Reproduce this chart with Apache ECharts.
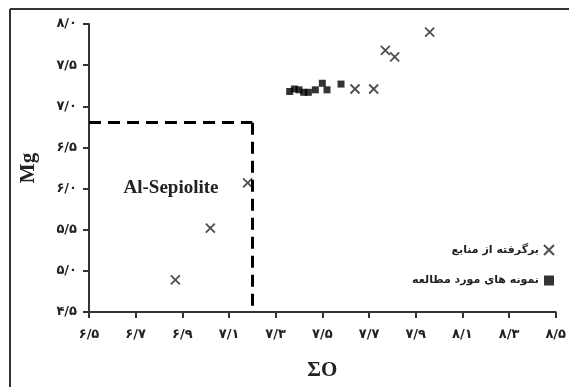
<!DOCTYPE html>
<html>
<head>
<meta charset="utf-8">
<script src="https://cdn.jsdelivr.net/npm/echarts@6/dist/echarts.min.js"></script>
<style>
  html, body { margin: 0; padding: 0; background: #fff; overflow: hidden; }
  #chart { width: 569px; height: 387px; }
</style>
</head>
<body>
<div id="chart"></div>
<script>
// Reference points (X markers)
const refX = [6.87, 7.02, 7.18, 7.64, 7.72, 7.77, 7.81, 7.96];
const refY = [4.89, 5.52, 6.07, 7.21, 7.21, 7.68, 7.60, 7.90];
// Studied samples (black squares)
const studyX = [7.36, 7.38, 7.40, 7.42, 7.44, 7.47, 7.50, 7.52, 7.58];
const studyY = [7.18, 7.21, 7.20, 7.17, 7.17, 7.20, 7.28, 7.20, 7.27];
// Al-Sepiolite field boundary
const fieldX = 7.2;
const fieldY = 6.8;
// Tick labels
const xTicks = [6.5, 6.7, 6.9, 7.1, 7.3, 7.5, 7.7, 7.9, 8.1, 8.3, 8.5];
const seriesNames = ['برگرفته از منابع', 'نمونه های مورد مطالعه'];

const faDigits = '۰۱۲۳۴۵۶۷۸۹';
function toPersian(v) {
  return v.toFixed(1).replace('.', '/').replace(/\d/g, d => faDigits[+d]);
}

const pair = (xs, ys) => xs.map((x, i) => [x, ys[i]]);
const crossPath = 'path://M0,0L10,10M10,0L0,10';
const labelFont = { color: '#222', fontFamily: 'DejaVu Sans', fontWeight: 'bold', fontSize: 13 };
const nameFont = { fontFamily: 'Liberation Serif', fontWeight: 'bold', fontSize: 21, color: '#222' };

const chart = echarts.init(document.getElementById('chart'));
chart.setOption({
  animation: false,
  backgroundColor: '#fff',
  grid: { left: 89, right: 11, top: 24, bottom: 75 },
  xAxis: {
    type: 'value', min: 6.5, max: 8.5,
    name: 'ΣO', nameLocation: 'middle', nameGap: 48, nameTextStyle: nameFont,
    axisLine: { lineStyle: { color: '#333', width: 2 } },
    axisTick: { length: 6, lineStyle: { color: '#333', width: 2 }, customValues: xTicks },
    axisLabel: Object.assign({ margin: 16, formatter: toPersian, customValues: xTicks }, labelFont),
    splitLine: { show: false }
  },
  yAxis: {
    type: 'value', min: 4.5, max: 8.0, interval: 0.5,
    name: 'Mg', nameLocation: 'middle', nameGap: 50, nameRotate: 90, nameTextStyle: nameFont,
    axisLine: { show: true, lineStyle: { color: '#333', width: 2 } },
    axisTick: { show: true, length: 6, lineStyle: { color: '#333', width: 2 } },
    axisLabel: Object.assign({ margin: 12, formatter: toPersian }, labelFont),
    splitLine: { show: false }
  },
  legend: {
    orient: 'vertical', right: 9, top: 239, align: 'right',
    itemGap: 19, itemWidth: 10, itemHeight: 10,
    textStyle: Object.assign({}, labelFont, { fontSize: 11 }),
    data: seriesNames
  },
  graphic: [
    { type: 'line', shape: { x1: 10, y1: 9, x2: 569, y2: 9 },
      style: { stroke: '#333', lineWidth: 2 }, silent: true },
    { type: 'line', shape: { x1: 10, y1: 9, x2: 10, y2: 387 },
      style: { stroke: '#333', lineWidth: 2 }, silent: true },
    { type: 'text', x: 171, y: 188,
      style: { text: 'Al-Sepiolite', font: 'bold 19px "Liberation Serif"', fill: '#222',
        textAlign: 'center', textVerticalAlign: 'middle' } }
  ],
  series: [
    {
      name: seriesNames[0], type: 'scatter', symbol: crossPath, symbolSize: 9,
      itemStyle: { color: 'transparent', borderColor: '#222', borderWidth: 1.8 },
      data: pair(refX, refY),
      markLine: {
        silent: true, symbol: 'none', label: { show: false },
        lineStyle: { color: '#000', width: 3, type: [12, 7] },
        data: [
          [{ coord: [6.5, fieldY] }, { coord: [fieldX, fieldY] }],
          [{ coord: [fieldX, fieldY] }, { coord: [fieldX, 4.5] }]
        ]
      }
    },
    {
      name: seriesNames[1], type: 'scatter', symbol: 'rect', symbolSize: 7,
      itemStyle: { color: '#000' },
      data: pair(studyX, studyY)
    }
  ]
});
</script>
</body>
</html>
